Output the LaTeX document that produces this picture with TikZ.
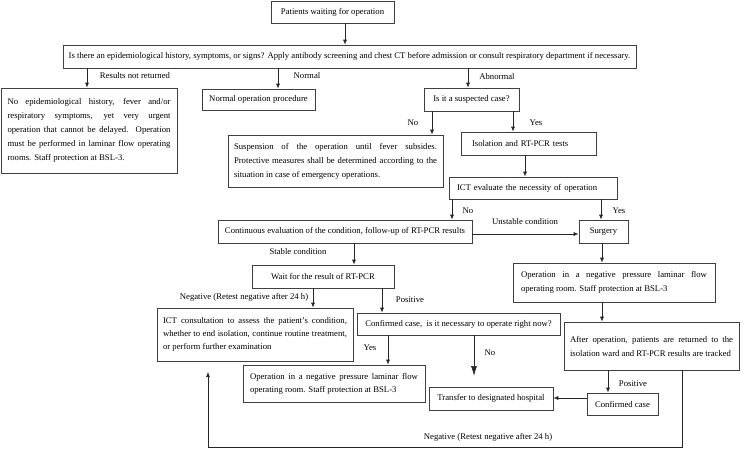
\documentclass[tikz,border=0pt]{standalone}
\usepackage{fontspec}
\setmainfont{Liberation Serif}
\usetikzlibrary{arrows.meta}
\begin{document}
\begin{tikzpicture}[x=1pt,y=-1pt,
  box/.style={draw=black!75, line width=0.7pt, inner sep=0pt, font=\fontsize{8.7}{14}\selectfont},
  jbox/.style={box, align=justify},
  arr/.style={draw=black!85, line width=0.7pt, -{Latex[length=5pt,width=4pt]}},
  bigarr/.style={draw=black!85, line width=0.7pt, -{Latex[length=10pt,width=6pt]}},
  lbl/.style={font=\fontsize{8.7}{11}\selectfont, inner sep=0pt}]
\useasboundingbox (0,0) rectangle (750,450);
\hyphenpenalty=10000
% boxes
\node[box, minimum width=123pt, minimum height=22pt] (pw) at (332.5,12) {Patients waiting for operation};
\node[box, minimum width=573pt, minimum height=23pt] (q) at (349.5,56.5) {Is there an epidemiological history, symptoms, or signs? Apply antibody screening and chest CT before admission or consult respiratory department if necessary.};
\node[jbox, minimum width=176pt, minimum height=85pt, text width=163pt] (lft) at (89,130.5) {No epidemiological history, fever and/or\linebreak respiratory symptoms, yet very urgent\linebreak operation that cannot be delayed. Operation\linebreak must be performed in laminar flow operating\linebreak rooms. Staff protection at BSL-3.};
\node[box, minimum width=113pt, minimum height=21pt] (norm) at (258.5,99.5) {Normal operation procedure};
\node[box, minimum width=95pt, minimum height=23pt] (susp) at (471.5,99.5) {Is it a suspected case?};
\node[jbox, minimum width=215pt, minimum height=52pt, text width=203pt] (stop) at (335.5,161) {Suspension of the operation until fever subsides.\linebreak Protective measures shall be determined according to the\linebreak situation in case of emergency operations.};
\node[box, minimum width=135pt, minimum height=23pt, text width=113pt, align=left] (iso) at (528.5,143.5) {Isolation and RT-PCR tests};
\node[box, minimum width=168pt, minimum height=22pt, text width=152pt, align=left] (ict) at (533,188) {ICT evaluate the necessity of operation};
\node[box, minimum width=254pt, minimum height=23pt] (cont) at (345,231.5) {Continuous evaluation of the condition, follow-up of RT-PCR results};
\node[box, minimum width=49pt, minimum height=23pt] (surg) at (603.5,231.5) {Surgery};
\node[jbox, minimum width=202pt, minimum height=39pt, text width=186pt] (opr) at (614,282.5) {Operation in a negative pressure laminar flow\linebreak operating room. Staff protection at BSL-3};
\node[box, minimum width=142pt, minimum height=23pt] (wait) at (323,276.5) {Wait for the result of RT-PCR};
\node[jbox, minimum width=175pt, minimum height=48pt, text width=163pt] (after) at (651.5,346) {After operation, patients are returned to the\linebreak isolation ward and RT-PCR results are tracked};
\node[jbox, minimum width=196pt, minimum height=53pt, text width=184pt, font=\fontsize{8.7}{13}\selectfont] (cons) at (255,334.5) {ICT consultation to assess the patient’s condition,\linebreak whether to end isolation, continue routine treatment,\linebreak or perform further examination};
\node[box, minimum width=203pt, minimum height=22pt] (confq) at (458.5,324) {Confirmed case,\enspace is it necessary to operate right now?};
\node[jbox, minimum width=182pt, minimum height=37pt, text width=168pt, font=\fontsize{8.7}{13}\selectfont] (opm) at (334,383.5) {Operation in a negative pressure laminar flow\linebreak operating room. Staff protection at BSL-3};
\node[box, minimum width=124pt, minimum height=23pt] (trans) at (491,398.5) {Transfer to designated hospital};
\node[box, minimum width=71pt, minimum height=22pt] (conf) at (622.5,404) {Confirmed case};
% labels
\node[lbl] (l1) at (135,76) {Results not returned};
\node[lbl] (l2) at (307,76) {Normal};
\node[lbl] (l3) at (497,77) {Abnormal};
\node[lbl] (l4) at (413,123) {No};
\node[lbl] (l5) at (536,123) {Yes};
\node[lbl] (l6) at (468,211) {No};
\node[lbl] (l7) at (619,211) {Yes};
\node[lbl] (l8) at (525,222) {Unstable condition};
\node[lbl] (l9) at (298,252) {Stable condition};
\node[lbl] (l10) at (244,297) {Negative (Retest negative after 24 h)};
\node[lbl] (l11) at (410,300) {Positive};
\node[lbl] (l12) at (370,348) {Yes};
\node[lbl] (l13) at (490,353) {No};
\node[lbl] (l14) at (633,384) {Positive};
\node[lbl] (l15) at (488,437) {Negative (Retest negative after 24 h)};
% connectors
\draw[arr] (pw.south -| 345,0) -- (q.north -| 345,0);
\draw[arr] (q.south -| 87,0) -- (lft.north -| 87,0);
\draw[arr] (q.south -| 278,0) -- (norm.north -| 278,0);
\draw[arr] (q.south -| 468,0) -- (susp.north -| 468,0);
\draw[arr] (susp.south -| 432,0) -- (stop.north -| 432,0);
\draw[arr] (susp.south -| 513,0) -- (iso.north -| 513,0);
\draw[arr] (iso.south -| 525,0) -- (ict.north -| 525,0);
\draw[arr] (ict.south -| 452,0) -- (cont.north -| 452,0);
\draw[arr] (ict.south -| 601,0) -- (surg.north -| 601,0);
\draw[arr] (cont.east |- 0,234) -- (surg.west |- 0,234);
\draw[arr] (cont.south -| 354,0) -- (wait.north -| 354,0);
\draw[arr] (surg.south -| 602,0) -- (opr.north -| 602,0);
\draw[arr] (wait.south -| 313,0) -- (cons.north -| 313,0);
\draw[arr] (wait.south -| 382,0) -- (confq.north -| 382,0);
\draw[arr] (opr.south -| 602,0) -- (after.north -| 602,0);
\draw[arr] (confq.south -| 388,0) -- (opm.north -| 388,0);
\coordinate (noend) at (474,376);
\draw[bigarr] (confq.south -| 474,0) -- (noend);
\draw[arr] (after.south -| 608,0) -- (conf.north -| 608,0);
\draw[arr] (conf.west |- 0,398) -- (trans.east |- 0,398);
\coordinate (retend) at (208,372);
\draw[arr] (after.south -| 682,0) -- (682,447) -- (208,447) -- (retend);
\end{tikzpicture}
\end{document}
